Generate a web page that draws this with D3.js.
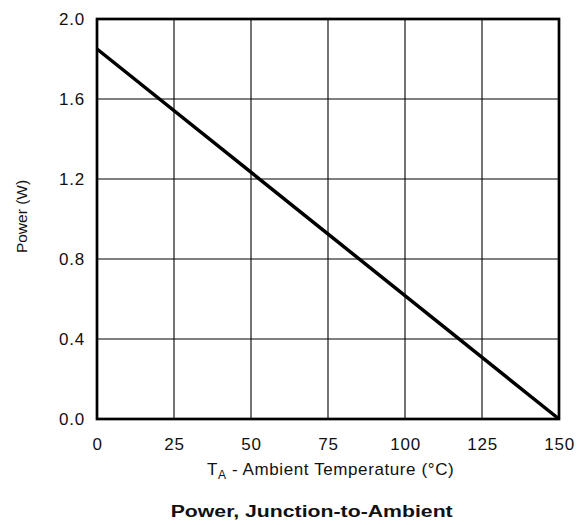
<!DOCTYPE html>
<html>
<head>
<meta charset="utf-8">
<script src="https://cdn.jsdelivr.net/npm/d3@7"></script>
<style>
  body { margin: 0; background: #fff; }
  svg text { font-family: "Liberation Sans", Arial, Helvetica, sans-serif; fill: #111; }
</style>
</head>
<body>
<svg id="chart" width="586" height="525"></svg>
<script>
var temps = [0, 150];
var power = [1.85, 0.0];
var x_ticks = [0, 25, 50, 75, 100, 125, 150];
var y_ticks = [0.0, 0.4, 0.8, 1.2, 1.6, 2.0];

var margin = {left: 97, top: 19, right: 559, bottom: 419};

var x = d3.scaleLinear().domain([0, 150]).range([margin.left, margin.right]);
var y = d3.scaleLinear().domain([0, 2]).range([margin.bottom, margin.top]);

var svg = d3.select("#chart");

// grid
svg.append("g").selectAll("line").data(x_ticks.slice(1, -1)).enter().append("line")
    .attr("x1", function(d) { return x(d); }).attr("x2", function(d) { return x(d); })
    .attr("y1", margin.top).attr("y2", margin.bottom)
    .attr("stroke", "#000").attr("stroke-width", 1.1);
svg.append("g").selectAll("line").data(y_ticks.slice(1, -1)).enter().append("line")
    .attr("y1", function(d) { return y(d); }).attr("y2", function(d) { return y(d); })
    .attr("x1", margin.left).attr("x2", margin.right)
    .attr("stroke", "#000").attr("stroke-width", 1.1);

// frame
svg.append("rect")
    .attr("x", margin.left).attr("y", margin.top)
    .attr("width", margin.right - margin.left).attr("height", margin.bottom - margin.top)
    .attr("fill", "none").attr("stroke", "#000").attr("stroke-width", 2.7);

// axes (labels only)
var xAxis = svg.append("g").attr("transform", "translate(0," + margin.bottom + ")")
    .call(d3.axisBottom(x).tickValues(x_ticks).tickSize(0).tickPadding(19).tickFormat(d3.format("d")));
var yAxis = svg.append("g").attr("transform", "translate(" + margin.left + ",0)")
    .call(d3.axisLeft(y).tickValues(y_ticks).tickSize(0).tickPadding(12).tickFormat(d3.format(".1f")));
[xAxis, yAxis].forEach(function(a) {
    a.select(".domain").remove();
    a.attr("font-family", null).attr("font-size", null);
    a.selectAll("text").style("font-size", "17px").style("letter-spacing", "0.8px").attr("fill", "#111");
});

// data line
var pts = temps.map(function(t, i) { return [t, power[i]]; });
svg.append("path").datum(pts)
    .attr("d", d3.line().x(function(d) { return x(d[0]); }).y(function(d) { return y(d[1]); }))
    .attr("fill", "none").attr("stroke", "#000").attr("stroke-width", 3.5);

// titles
var xt = svg.append("text").attr("x", 207).attr("y", 475)
    .attr("text-anchor", "start").style("font-size", "17px").style("letter-spacing", "0.6px");
xt.append("tspan").text("T");
xt.append("tspan").attr("dy", 4).style("font-size", "12px").text("A");
xt.append("tspan").attr("dy", -4).text(" - Ambient Temperature (°C)");

svg.append("text").attr("transform", "translate(27,216.5) rotate(-90)")
    .attr("text-anchor", "middle").style("font-size", "15.5px").text("Power (W)");

svg.append("text").attr("x", 170.7).attr("y", 516.7)
    .attr("text-anchor", "start").style("font-size", "16.8px").style("font-weight", "bold")
    .attr("textLength", 282).attr("lengthAdjust", "spacingAndGlyphs")
    .text("Power, Junction-to-Ambient");
</script>
</body>
</html>
